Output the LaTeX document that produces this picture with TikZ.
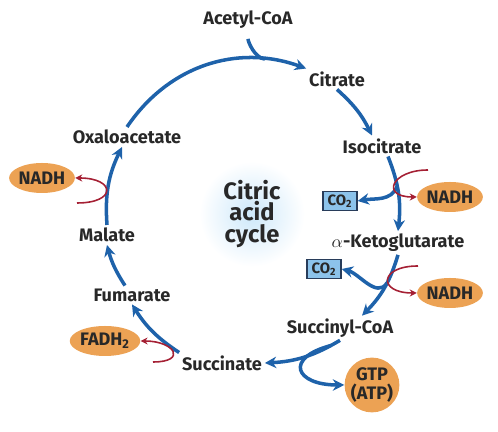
\documentclass[tikz,border=0pt]{standalone}
\usepackage{fontspec}
\setmainfont{Fira Sans}
\usepackage{tikz}
\usetikzlibrary{arrows,arrows.meta,shapes,positioning}
\usepackage{xcolor}
\definecolor{tcablue}{RGB}{30,98,170}
\definecolor{tcared}{RGB}{165,32,52}
\definecolor{tcaorange}{RGB}{236,162,84}
\definecolor{tcalightblue}{RGB}{140,195,235}
\definecolor{tcaframe}{RGB}{40,60,90}
\definecolor{tcatext}{RGB}{40,40,40}
\definecolor{tcaglow}{RGB}{205,232,250}
\tikzstyle{metab} = [text=tcatext, font=\bfseries\fontsize{10.3}{11}\selectfont, inner sep=1.5pt]
\tikzstyle{carrier} = [ellipse, fill=tcaorange, text=tcatext, font=\bfseries\fontsize{10.3}{11}\selectfont, minimum width=1.2cm, minimum height=0.6cm, inner sep=0pt]
\tikzstyle{co2box} = [rectangle, draw=tcaframe, fill=tcalightblue, line width=0.8pt, minimum width=0.68cm, minimum height=0.38cm, inner sep=0pt, text=tcatext, font=\bfseries\fontsize{8.5}{9}\selectfont]
\tikzstyle{cycarrow} = [line width=2pt,->,>={Stealth[length=6.5pt,width=6.5pt]},color=tcablue]
\tikzstyle{cycline} = [line width=2pt,color=tcablue]
\tikzstyle{redox} = [line width=0.9pt,->,>={Stealth[length=4pt,width=4pt]},color=tcared]

\begin{document}
\begin{tikzpicture}[x=0.02cm, y=0.02cm]
\useasboundingbox (0,0) rectangle (498,432);

\node (cac) [circle, inner color=tcaglow, outer color=white, minimum size=2cm, align=center, text=tcatext, font=\bfseries\fontsize{13.5}{12.5}\selectfont] at (252,218) {Citric\\acid\\cycle};

\node (acetyl) [metab] at (248,412) {Acetyl-CoA};
\node (citrate) [metab] at (337,353) {Citrate};
\node (isocit) [metab] at (382,286) {Isocitrate};
\node (akg) [metab] at (398,189) {$\alpha$-Ketoglutarate};
\node (succoa) [metab] at (340,104) {Succinyl-CoA};
\node (succ) [metab] at (222,69) {Succinate};
\node (fum) [metab] at (132,137) {Fumarate};
\node (mal) [metab] at (107,197) {Malate};
\node (oxa) [metab] at (127,295) {Oxaloacetate};

\node (nadhA) [carrier] at (450,235) {NADH};
\node (nadhB) [carrier] at (450,139) {NADH};
\node (nadhC) [carrier] at (42,254) {NADH};
\node (fadh) [carrier] at (105,91) {FADH\textsubscript{2}};
\node (gtp) [carrier, circle, minimum size=1.08cm, align=center] at (372,47) {GTP\\(ATP)};
\node (co2A) [co2box] at (340,231) {CO\textsubscript{2}};
\node (co2B) [co2box] at (324,163) {CO\textsubscript{2}};

\coordinate (redA) at (428,262);
\coordinate (redB) at (418,166);
\coordinate (redC) at (77,229);
\coordinate (redD) at (153,70);

\draw[cycarrow] (oxa.north) to[bend left=38] coordinate[pos=0.8] (acjoin) (citrate.north west);
\draw[cycline, shorten <=4pt] (acetyl.south) to[out=-90,in=175,looseness=0.8] (acjoin);
\draw[cycarrow] (citrate.south) to[bend left=11] ([xshift=-0.2cm]isocit.north);
\draw[cycarrow] ([xshift=0.12cm]isocit.south) to[bend left=14] coordinate[pos=0.4] (co2forkA) (akg.north);
\draw[cycarrow] (akg.south) to[bend left=14] coordinate[pos=0.42] (co2forkB) ([xshift=0.44cm]succoa.north);
\draw[cycarrow] (succoa.south) to[bend left=14] coordinate[pos=0.12] (gtpfork) (succ.east);
\draw[cycarrow] (succ.north west) to[bend left=12] (fum.south);
\draw[cycarrow] ([xshift=-0.14cm]fum.north) to[bend left=9] (mal.south);
\draw[cycarrow] (mal.north) to[bend left=15] ([xshift=-0.1cm]oxa.south);

\draw[cycarrow] (co2forkA) to[out=-110,in=10] (co2A.east);
\draw[cycarrow] (co2forkB) to[out=-125,in=-15] (co2B.east);
\draw[cycarrow] (gtpfork) to[out=195,in=180,looseness=3] (gtp.west);

\draw[redox] (redA) to[out=180,in=180,looseness=3.2] (nadhA.west);
\draw[redox] (redB) to[out=180,in=180,looseness=3.7] (nadhB.west);
\draw[redox] (redC) to[out=0,in=0,looseness=4.1] (nadhC.east);
\draw[redox] (redD) to[out=0,in=0,looseness=3.6] (fadh.east);
\end{tikzpicture}
\end{document}
